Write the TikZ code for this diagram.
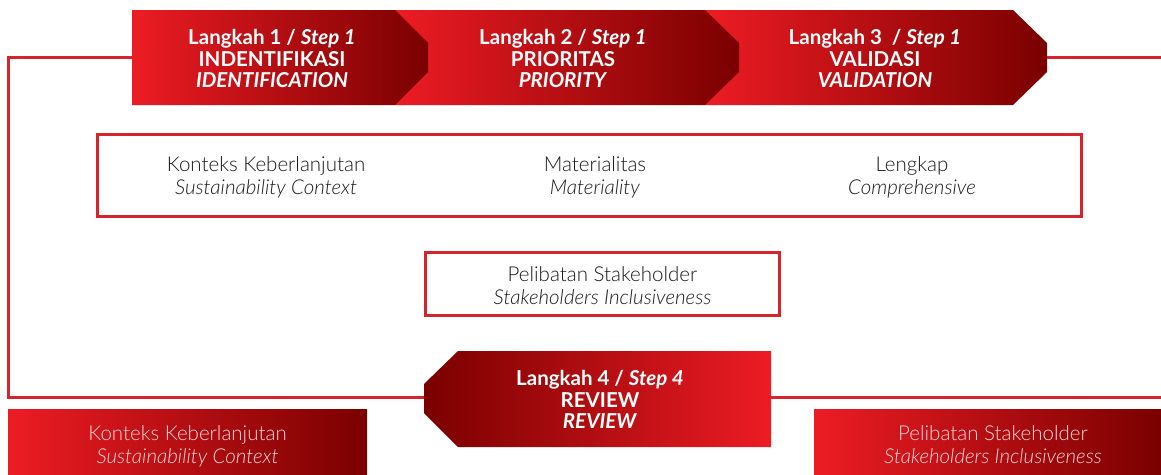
\documentclass[tikz,border=0pt]{standalone}
\usepackage{fontspec}
\setmainfont{Lato}
\newfontfamily\thinfont{Lato}[UprightFont=* Light, ItalicFont=* Light Italic]
\usetikzlibrary{positioning}
\definecolor{stepred}{RGB}{237,28,36}
\definecolor{stepdark}{RGB}{122,0,0}
\definecolor{framered}{RGB}{213,36,44}
\definecolor{bodygray}{RGB}{25,25,25}
\definecolor{palepink}{RGB}{248,214,216}

\tikzset{
  steptext/.style={text=white, align=center, font=\fontsize{20.5}{21.5}\selectfont\bfseries},
  bodytext/.style={text=bodygray, align=center, font=\thinfont\fontsize{20.5}{23}\selectfont},
  redframe/.style={draw=framered, line width=3pt, inner sep=0pt},
  loopline/.style={framered, line width=3pt},
  fillbox/.style={left color=stepred, right color=stepdark},
  filltext/.style={text=palepink, align=center, font=\thinfont\fontsize{20.5}{23}\selectfont},
}

\begin{document}
\begin{tikzpicture}[x=1pt, y=-1pt]
\useasboundingbox (0,0) rectangle (1161,474);

% three steps, drawn from the right so the tips lie on top
\shade[left color=stepred, right color=stepdark] (705,10) -- (1013,10) -- (1047,43) -- (1047,72) -- (1013,105) -- (705,105) -- cycle;
\shade[left color=stepred, right color=stepdark] (395,10) -- (705,10) -- (739,43) -- (739,72) -- (705,105) -- (395,105) -- cycle;
\shade[left color=stepred, right color=stepdark] (132,10) -- (395,10) -- (428,43) -- (428,72) -- (395,105) -- (132,105) -- cycle;

\node[steptext] (step1) at (272,58.5) {Langkah 1 / \textit{Step 1}\\INDENTIFIKASI\\\textit{IDENTIFICATION}};
\node[steptext] (step2) at (563,58.5) {Langkah 2 / \textit{Step 1}\\PRIORITAS\\\textit{PRIORITY}};
\node[steptext] (step3) at (875,58.5) {Langkah 3~ / \textit{Step 1}\\VALIDASI\\\textit{VALIDATION}};

% step 4 points back
\shade[left color=stepdark, right color=stepred] (771,351) -- (458,351) -- (424,384) -- (424,413) -- (458,447) -- (771,447) -- cycle;
\node[steptext] (step4) at (600,399.5) {Langkah 4 / \textit{Step 4}\\REVIEW\\\textit{REVIEW}};

\coordinate (s1in) at (132,57);
\coordinate (s3tip) at (1047,57);
\coordinate (s4tip) at (424,397);
\coordinate (s4back) at (771,397);
\coordinate (leftrail) at (8,230);
\coordinate (rightedge) at (1161,0);

% the loop
\draw[loopline] (s1in) -| (leftrail) |- (s4tip);
\draw[loopline] (s3tip) -- (s3tip -| rightedge);
\draw[loopline] (s4back) -- (s4back -| rightedge);

% principles
\node[redframe, minimum width=984, minimum height=82] (principles) at (589.5,175.5) {};
\node[bodytext] (context) at (266,177) {Konteks Keberlanjutan\\\textit{Sustainability Context}};
\node[bodytext] (material) at (595,177) {Materialitas\\\textit{Materiality}};
\node[bodytext] (complete) at (912,177) {Lengkap\\\textit{Comprehensive}};

\node[redframe, minimum width=354, minimum height=63] (stakeholder) at (602.5,284) {};
\node[bodytext] (stakelabel) at (602.5,286) {Pelibatan Stakeholder\\\textit{Stakeholders Inclusiveness}};

% bottom bars
\shade[fillbox] (8,409) rectangle (367,474);
\node[filltext] (contextbar) at (187.5,446) {Konteks Keberlanjutan\\\textit{Sustainability Context}};
\shade[fillbox] (814,409) rectangle (1161,474);
\node[filltext] (stakebar) at (993,445) {Pelibatan Stakeholder\\\textit{Stakeholders Inclusiveness}};
\end{tikzpicture}
\end{document}
